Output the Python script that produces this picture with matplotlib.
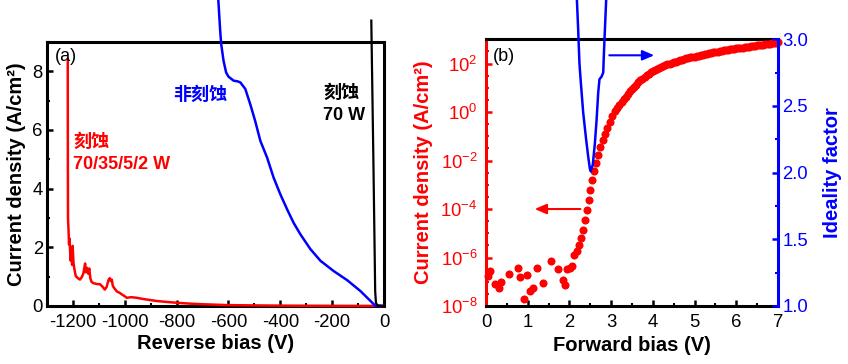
import numpy as np
import matplotlib
matplotlib.use("Agg")
import matplotlib.pyplot as plt
from matplotlib.ticker import FixedLocator, FuncFormatter, MultipleLocator, NullFormatter

plt.rcParams['font.family'] = ['Liberation Sans', 'Noto Sans CJK SC', 'DejaVu Sans']
plt.rcParams['axes.unicode_minus'] = False
plt.rcParams['mathtext.fontset'] = 'custom'
plt.rcParams['mathtext.rm'] = 'Liberation Sans'
plt.rcParams['mathtext.it'] = 'Liberation Sans:italic'
plt.rcParams['mathtext.bf'] = 'Liberation Sans:bold'

RED = '#ff0000'
BLUE = '#0000ff'

# ---------------- Panel (a) data: reverse bias ----------------
v_red = [-1220, -1219.5, -1219, -1217, -1215, -1213, -1211, -1209, -1206, -1203, -1201, -1198,
         -1196, -1192, -1189, -1181, -1173, -1166, -1160, -1156, -1153, -1150, -1146, -1141,
         -1137, -1133, -1128, -1121, -1108, -1095, -1085, -1077, -1070, -1063, -1058, -1054,
         -1050, -1046, -1038, -1031, -1020, -1012, -1000, -992, -975, -954, -930, -900, -876,
         -840, -800, -748, -700, -650, -606, -550, -500, -400, -300, -200, -100, -30, 0]
j_red = [8.42, 5.0, 3.0, 2.6, 2.1, 2.3, 1.9, 1.55, 1.95, 1.4, 2.05, 1.5,
         1.35, 1.15, 1.02, 0.95, 0.9, 0.98, 1.1, 1.3, 1.45, 1.15, 1.3, 1.1,
         1.28, 0.95, 0.82, 0.78, 0.75, 0.74, 0.65, 0.56, 0.65, 0.88, 0.95, 0.85,
         0.9, 0.68, 0.58, 0.5, 0.45, 0.4, 0.33, 0.28, 0.30, 0.28, 0.24, 0.20, 0.17,
         0.14, 0.11, 0.08, 0.06, 0.045, 0.03, 0.025, 0.02, 0.012, 0.008, 0.005, 0.003, 0.002, 0.0]

v_blue = [-639, -632, -628, -619, -609, -600, -580, -565, -554, -535, -516, -497, -477, -451,
          -426, -400, -374, -349, -323, -284, -245, -194, -142, -91, -52, -33, -25, 0]
j_blue = [10.41, 9.39, 8.93, 8.36, 7.96, 7.82, 7.68, 7.66, 7.62, 7.40, 6.88, 6.31, 5.63, 5.06,
          4.38, 3.81, 3.30, 2.84, 2.45, 1.94, 1.54, 1.19, 0.88, 0.51, 0.17, 0.0, 0.0, 0.0]

v_black = [-49, -41, -34, -31, -25, 0]
j_black = [9.73, 5.0, 0.5, 0.1, 0.02, 0.0]

# ---------------- Panel (b) data: forward bias ----------------
v_fwd_low = [0.05, 0.10, 0.22, 0.32, 0.37, 0.56, 0.76, 0.82, 0.92, 0.99, 1.06, 1.12, 1.22,
             1.37, 1.57, 1.72, 1.84, 1.89, 1.94]
logj_fwd_low = [-6.75, -6.55, -7.10, -7.25, -7.00, -6.66, -6.42, -6.80, -7.72, -6.72, -7.40,
                -7.24, -6.42, -7.04, -6.16, -6.47, -6.92, -7.13, -6.48]
v_fwd_mid = [2.02, 2.07, 2.12, 2.17, 2.22, 2.27, 2.32, 2.37, 2.42, 2.46, 2.50, 2.54, 2.59,
             2.64, 2.69, 2.74, 2.80, 2.85, 2.91, 2.97, 3.03]
logj_fwd_mid = [-6.42, -6.36, -5.90, -5.72, -5.48, -5.18, -4.85, -4.45, -4.03, -3.62, -3.20,
                -2.82, -2.42, -2.09, -1.77, -1.46, -1.15, -0.89, -0.64, -0.40, -0.18]
v_fwd_high = [3.10, 3.15, 3.20, 3.25, 3.30, 3.35, 3.40, 3.45, 3.50, 3.55, 3.60, 3.65, 3.70,
              3.75, 3.80, 3.85, 3.90, 3.95, 4.00, 4.05, 4.10, 4.15, 4.20, 4.25, 4.30, 4.35,
              4.40, 4.45, 4.50, 4.55, 4.60, 4.65, 4.70, 4.75, 4.80, 4.85, 4.90, 4.95, 5.00,
              5.05, 5.10, 5.15, 5.20, 5.25, 5.30, 5.35, 5.40, 5.45, 5.50, 5.55, 5.60, 5.65,
              5.70, 5.75, 5.80, 5.85, 5.90, 5.95, 6.00, 6.05, 6.10, 6.15, 6.20, 6.25, 6.30,
              6.35, 6.40, 6.45, 6.50, 6.55, 6.60, 6.65, 6.70, 6.75, 6.80, 6.85, 6.90, 6.95, 7.00]
logj_fwd_high = [0.04, 0.17, 0.30, 0.42, 0.53, 0.64, 0.75, 0.85, 0.95, 1.04,
                 1.13, 1.22, 1.31, 1.38, 1.45, 1.52, 1.58, 1.64, 1.70, 1.75,
                 1.79, 1.83, 1.87, 1.91, 1.94, 1.97, 2.00, 2.03, 2.06, 2.08,
                 2.11, 2.13, 2.16, 2.18, 2.21, 2.23, 2.25, 2.27, 2.29, 2.31,
                 2.33, 2.35, 2.37, 2.39, 2.41, 2.42, 2.44, 2.46, 2.47, 2.49,
                 2.51, 2.52, 2.54, 2.55, 2.57, 2.58, 2.60, 2.61, 2.63, 2.64,
                 2.65, 2.66, 2.68, 2.69, 2.70, 2.71, 2.73, 2.74, 2.75, 2.76,
                 2.77, 2.78, 2.80, 2.81, 2.82, 2.83, 2.84, 2.86, 2.88]

v_ideal = [2.18, 2.21, 2.24, 2.27, 2.33, 2.40, 2.45, 2.49, 2.51, 2.56, 2.61, 2.65, 2.69,
           2.72, 2.77, 2.81, 2.83, 2.85, 2.88]
n_ideal = [3.29, 3.07, 2.82, 2.69, 2.45, 2.25, 2.12, 2.03, 2.01, 2.06, 2.22, 2.39, 2.60,
           2.70, 2.72, 2.75, 2.92, 3.07, 3.29]

x_ticks_a = [-1200, -1000, -800, -600, -400, -200, 0]
y_ticks_a = [0, 2, 4, 6, 8]
x_ticks_b = [0, 1, 2, 3, 4, 5, 6, 7]
y_ticks_b_exp = [-8, -6, -4, -2, 0, 2]
y_ticks_b2 = [1.0, 1.5, 2.0, 2.5, 3.0]

fig = plt.figure(figsize=(8.48, 3.64), dpi=100)
W, H = 848.0, 364.0

SPW = 2.2
TICKFS = 13.3
LABFS = 14.5


def style_ticks(ax):
    ax.tick_params(which='major', direction='in', length=4.5, width=1.8, labelsize=TICKFS)
    ax.tick_params(which='minor', direction='in', length=2.5, width=1.5)


# ---------------- Panel (a) ----------------
axa = fig.add_axes([47 / W, (H - 306) / H, 337 / W, 264 / H])
axa.plot(v_red, j_red, color=RED, lw=1.8, clip_on=False, zorder=3)
axa.plot(v_blue, j_blue, color=BLUE, lw=1.8, clip_on=False, zorder=3)
axa.plot(v_black, j_black, color='black', lw=1.6, clip_on=False, zorder=4)
axa.set_xlim(-1300, 0)
axa.set_ylim(0, 9)
axa.set_xticks(x_ticks_a)
axa.set_xticklabels([str(t) for t in x_ticks_a])
axa.set_yticks(y_ticks_a)
axa.xaxis.set_minor_locator(MultipleLocator(100))
axa.yaxis.set_minor_locator(MultipleLocator(1))
style_ticks(axa)
axa.tick_params(axis='x', which='major', pad=6)
axa.tick_params(axis='y', which='major', pad=3)
for s in axa.spines.values():
    s.set_linewidth(SPW)
axa.set_xlabel('Reverse bias (V)', fontsize=LABFS, fontweight='bold')
axa.set_ylabel('Current density (A/cm²)', fontsize=LABFS, fontweight='bold')
axa.xaxis.set_label_coords(0.5, -0.105)
axa.yaxis.set_label_coords(-0.062, 0.5)

axa.text(0.024, 0.945, '(a)', transform=axa.transAxes, fontsize=13, va='center', ha='left')
axa.text(-1200, 5.57, '刻蚀', color=RED, fontsize=13, fontweight='bold', va='center', ha='left')
axa.text(-1200, 4.84, '70/35/5/2 W', color=RED, fontsize=13, fontweight='bold', va='center', ha='left')
axa.text(-813, 7.2, '非刻蚀', color=BLUE, fontsize=13, fontweight='bold', va='center', ha='left')
axa.text(-234, 7.25, '刻蚀', color='black', fontsize=13, fontweight='bold', va='center', ha='left')
axa.text(-234, 6.48, '70 W', color='black', fontsize=13, fontweight='bold', va='center', ha='left')

# ---------------- Panel (b) ----------------
axb = fig.add_axes([486 / W, (H - 306) / H, 292 / W, 266.7 / H])
v_fwd = v_fwd_low + v_fwd_mid + v_fwd_high
j_fwd = 10.0 ** np.array(logj_fwd_low + logj_fwd_mid + logj_fwd_high)
axb.plot(v_fwd, j_fwd, 'o', color=RED, ms=5.8, mec='none', clip_on=False, zorder=3)
axb.set_yscale('log')
axb.set_xlim(0, 7)
axb.set_ylim(1e-8, 1e3)
axb.set_xticks(x_ticks_b)
axb.xaxis.set_minor_locator(MultipleLocator(0.5))
axb.yaxis.set_major_locator(FixedLocator([10.0 ** e for e in y_ticks_b_exp]))
axb.yaxis.set_major_formatter(FuncFormatter(lambda v, p: r'$10^{%d}$' % int(round(np.log10(v)))))
axb.yaxis.set_minor_locator(FixedLocator([10.0 ** (e / 2.0) for e in range(-16, 7) if e % 4 != 0]))
axb.yaxis.set_minor_formatter(NullFormatter())
style_ticks(axb)
axb.tick_params(axis='x', which='major', pad=6)
axb.tick_params(axis='y', which='both', colors=RED)
axb.tick_params(axis='y', which='major', pad=6)
for s in axb.spines.values():
    s.set_linewidth(SPW)
axb.spines['left'].set_color(RED)
axb.spines['right'].set_visible(False)
axb.set_xlabel('Forward bias (V)', fontsize=LABFS, fontweight='bold')
axb.set_ylabel('Current density (A/cm²)', fontsize=LABFS, fontweight='bold', color=RED)
axb.xaxis.set_label_coords(0.5, -0.112)
axb.yaxis.set_label_coords(-0.18, 0.5)
axb.text(0.024, 0.935, '(b)', transform=axb.transAxes, fontsize=13, va='center', ha='left')
axb.annotate('', xy=(1.10, 1e-4), xytext=(2.33, 1e-4),
             arrowprops=dict(arrowstyle='-|>,head_length=0.7,head_width=0.3', color=RED, lw=1.5))

ax2 = axb.twinx()
ax2.plot(v_ideal, n_ideal, color=BLUE, lw=1.8, clip_on=False, zorder=2)
ax2.set_ylim(1.0, 3.0)
ax2.set_yticks(y_ticks_b2)
ax2.set_yticklabels(['%.1f' % t for t in y_ticks_b2])
ax2.yaxis.set_minor_locator(MultipleLocator(0.25))
ax2.tick_params(which='major', direction='in', length=4.5, width=1.8, labelsize=TICKFS, colors=BLUE, pad=3)
ax2.tick_params(which='minor', direction='in', length=2.5, width=1.5, colors=BLUE)
for k in ['left', 'top', 'bottom']:
    ax2.spines[k].set_visible(False)
ax2.spines['right'].set_color(BLUE)
ax2.spines['right'].set_linewidth(SPW)
ax2.set_ylabel('Ideality factor', fontsize=LABFS, fontweight='bold', color=BLUE)
ax2.yaxis.set_label_coords(1.155, 0.5)
ax2.annotate('', xy=(4.1, 2.88), xytext=(2.89, 2.88),
             arrowprops=dict(arrowstyle='-|>,head_length=0.7,head_width=0.3', color=BLUE, lw=1.5))

fig.savefig('out.png', dpi=100)
